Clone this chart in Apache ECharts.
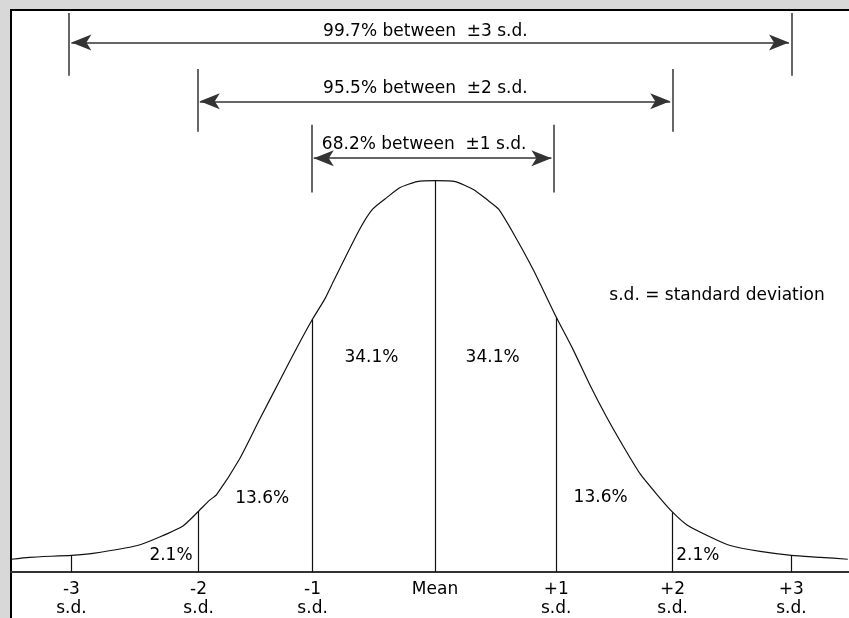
<!DOCTYPE html>
<html>
<head>
<meta charset="utf-8">
<script src="https://cdn.jsdelivr.net/npm/echarts@6/dist/echarts.min.js"></script>
<style>
  html, body { margin: 0; padding: 0; background: #d8d8d8; }
  #chart { width: 849px; height: 618px; }
</style>
</head>
<body>
<div id="chart"></div>
<script>
// curve (x in s.d., y as density)
const curveX = [-3.53, -3.38, -3.03, -2.85, -2.48, -2.29, -2.10, -1.97, -1.88, -1.82,
  -1.63, -1.46, -1.29, -1.15, -1.02, -0.92, -0.84, -0.63, -0.52, -0.40,
  -0.29, -0.15, 0, 0.17, 0.32, 0.43, 0.53, 0.65, 0.82, 1.01,
  1.15, 1.29, 1.43, 1.57, 1.71, 1.85, 1.98, 2.10, 2.29, 2.46,
  2.71, 2.97, 3.21, 3.44]
const curveY = [0.013, 0.015, 0.017, 0.019, 0.027, 0.036, 0.047, 0.062, 0.073, 0.079,
  0.115, 0.156, 0.196, 0.229, 0.258, 0.278, 0.298, 0.349, 0.370, 0.382,
  0.392, 0.398, 0.399, 0.398, 0.390, 0.380, 0.370, 0.346, 0.308, 0.260,
  0.227, 0.191, 0.158, 0.128, 0.100, 0.079, 0.061, 0.048, 0.036, 0.027,
  0.021, 0.017, 0.015, 0.013]

// s.d. marks on the axis
const sdPos = [-3.03, -1.97, -1.02, 0, 1.01, 1.98, 2.97]
const sdLabels = ['-3\ns.d.', '-2\ns.d.', '-1\ns.d.', 'Mean', '+1\ns.d.', '+2\ns.d.', '+3\ns.d.']

// the three brackets at the top
const bandText = ['99.7% between  ±3 s.d.', '95.5% between  ±2 s.d.', '68.2% between  ±1 s.d.']
const bandLeft = [-3.05, -1.98, -1.03]
const bandRight = [2.97, 1.98, 0.99]
const bandArrowY = [0.540, 0.480, 0.422]
const bandTop = [0.570, 0.513, 0.456]
const bandBottom = [0.506, 0.449, 0.387]
const bandLabelX = [-0.08, -0.08, -0.09]
const bandLabelY = [0.551, 0.493, 0.436]

// area percentages and the note
const noteText = ['s.d. = standard deviation', '34.1%', '34.1%', '13.6%', '13.6%', '2.1%', '2.1%']
const noteX = [2.35, -0.53, 0.48, -1.44, 1.38, -2.20, 2.19]
const noteY = [0.282, 0.219, 0.219, 0.075, 0.076, 0.017, 0.017]

const font = 'DejaVu Sans'

function curveAt(x) {
  const i = curveX.findIndex(v => Math.abs(v - x) < 1e-6)
  return curveY[i]
}

const chart = echarts.init(document.getElementById('chart'))

const sdLines = sdPos.map(x => [{ coord: [x, 0] }, { coord: [x, curveAt(x)] }])

const bandLines = []
bandText.forEach((t, i) => {
  bandLines.push([
    { coord: [bandLeft[i], bandTop[i]], symbol: 'none' },
    { coord: [bandLeft[i], bandBottom[i]], symbol: 'none' }
  ])
  bandLines.push([
    { coord: [bandRight[i], bandTop[i]], symbol: 'none' },
    { coord: [bandRight[i], bandBottom[i]], symbol: 'none' }
  ])
  bandLines.push([
    { coord: [bandLeft[i] + 0.02, bandArrowY[i]], symbol: 'arrow' },
    { coord: [bandRight[i] - 0.02, bandArrowY[i]], symbol: 'arrow' }
  ])
})

const labels = bandText.map((t, i) => ({ name: t, value: [bandLabelX[i], bandLabelY[i]] }))
  .concat(noteText.map((t, i) => ({ name: t, value: [noteX[i], noteY[i]] })))

const option = {
  animation: false,
  backgroundColor: '#d8d8d8',
  graphic: [{
    type: 'rect',
    z: -10,
    silent: true,
    shape: { x: 11, y: 10, width: 900, height: 700 },
    style: { fill: '#ffffff', stroke: '#000000', lineWidth: 2 }
  }],
  grid: { left: 11, right: 0, top: 13, bottom: 45 },
  xAxis: {
    type: 'value',
    min: -3.5333,
    max: 3.45,
    axisLine: { show: true, lineStyle: { color: '#333', width: 2 } },
    axisTick: { show: false },
    splitLine: { show: false },
    axisLabel: {
      customValues: sdPos,
      margin: 8,
      color: '#000',
      fontFamily: font,
      fontSize: 17,
      lineHeight: 19,
      formatter: v => {
        let best = 0
        sdPos.forEach((p, i) => { if (Math.abs(p - v) < Math.abs(sdPos[best] - v)) best = i })
        return sdLabels[best]
      }
    }
  },
  yAxis: {
    type: 'value',
    min: 0,
    max: 0.57,
    show: false,
    splitLine: { show: false }
  },
  series: [
    {
      type: 'line',
      data: curveX.map((x, i) => [x, curveY[i]]),
      showSymbol: false,
      smooth: 0.2,
      lineStyle: { color: '#111', width: 1.2 },
      silent: true,
      markLine: {
        silent: true,
        symbol: 'none',
        label: { show: false },
        lineStyle: { color: '#111', width: 1.2, type: 'solid' },
        data: sdLines
      }
    },
    {
      type: 'scatter',
      data: labels,
      symbolSize: 0,
      silent: true,
      itemStyle: { opacity: 1 },
      label: {
        show: true,
        position: 'inside',
        formatter: '{b}',
        color: '#000',
        opacity: 1,
        textBorderWidth: 0,
        fontFamily: font,
        fontSize: 17
      },
      markLine: {
        silent: true,
        symbolSize: [12, 20],
        label: { show: false },
        lineStyle: { color: '#333', width: 1.5, type: 'solid' },
        data: bandLines
      }
    }
  ]
}

chart.setOption(option)
</script>
</body>
</html>
